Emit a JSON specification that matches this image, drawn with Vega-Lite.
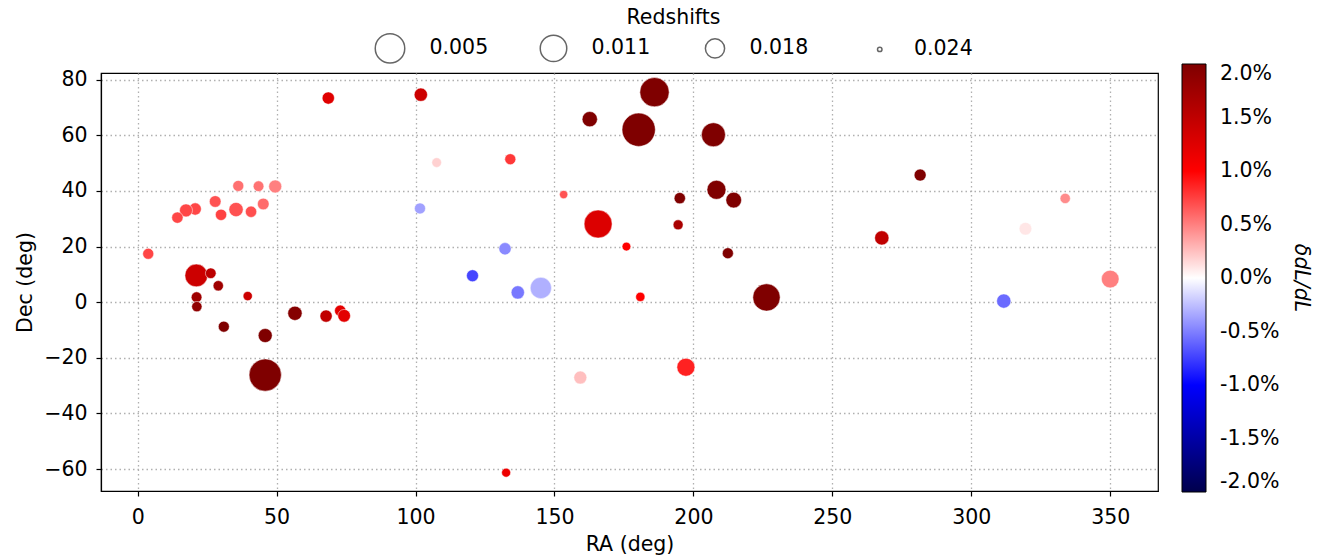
{
  "$schema": "https://vega.github.io/schema/vega-lite/v6.json",
  "autosize": "none",
  "width": 1057,
  "height": 418,
  "padding": {"left": 101, "top": 73, "right": 172, "bottom": 66},
  "background": "white",
  "config": {
    "font": "DejaVu Sans",
    "view": {"stroke": "black", "strokeWidth": 1.2},
    "axis": {
      "labelFontSize": 20.5,
      "titleFontSize": 20.5,
      "labelColor": "black",
      "titleColor": "black",
      "titleFontWeight": "normal",
      "tickColor": "black",
      "tickSize": 5,
      "tickWidth": 1.2,
      "domainColor": "black",
      "domainWidth": 1.2,
      "grid": true,
      "gridColor": "#b0b0b0",
      "gridDash": [1.5, 3],
      "gridWidth": 1.3
    }
  },
  "data": {
    "values": [
      {"ra": 68.6, "dec": 73.4, "z": 0.02175, "dl": 1.24},
      {"ra": 101.9, "dec": 74.6, "z": 0.0213, "dl": 1.4},
      {"ra": 107.6, "dec": 50.2, "z": 0.02273, "dl": 0.18},
      {"ra": 101.6, "dec": 33.7, "z": 0.02226, "dl": -0.37},
      {"ra": 36.2, "dec": 41.8, "z": 0.02226, "dl": 0.56},
      {"ra": 43.5, "dec": 41.7, "z": 0.02238, "dl": 0.55},
      {"ra": 49.5, "dec": 41.6, "z": 0.02144, "dl": 0.5},
      {"ra": 27.9, "dec": 36.2, "z": 0.02199, "dl": 0.68},
      {"ra": 45.2, "dec": 35.3, "z": 0.02199, "dl": 0.58},
      {"ra": 35.4, "dec": 33.3, "z": 0.02084, "dl": 0.68},
      {"ra": 40.8, "dec": 32.5, "z": 0.02214, "dl": 0.69},
      {"ra": 30.0, "dec": 31.4, "z": 0.02214, "dl": 0.74},
      {"ra": 20.7, "dec": 33.5, "z": 0.02175, "dl": 0.72},
      {"ra": 17.4, "dec": 33.0, "z": 0.02144, "dl": 0.72},
      {"ra": 14.3, "dec": 30.4, "z": 0.02214, "dl": 0.72},
      {"ra": 3.8, "dec": 17.4, "z": 0.02226, "dl": 0.73},
      {"ra": 21.1, "dec": 9.6, "z": 0.01493, "dl": 1.4},
      {"ra": 26.3, "dec": 10.4, "z": 0.02238, "dl": 1.53},
      {"ra": 29.0, "dec": 5.9, "z": 0.02252, "dl": 1.75},
      {"ra": 21.2, "dec": 1.8, "z": 0.02238, "dl": 1.75},
      {"ra": 21.3, "dec": -1.6, "z": 0.02252, "dl": 1.87},
      {"ra": 39.6, "dec": 2.2, "z": 0.02287, "dl": 1.4},
      {"ra": 31.0, "dec": -8.8, "z": 0.02226, "dl": 2.0},
      {"ra": 45.9, "dec": -12.0, "z": 0.02097, "dl": 2.0},
      {"ra": 45.9, "dec": -26.2, "z": 0.00379, "dl": 2.0},
      {"ra": 56.6, "dec": -4.0, "z": 0.02084, "dl": 1.95},
      {"ra": 67.8, "dec": -5.0, "z": 0.02175, "dl": 1.49},
      {"ra": 72.9, "dec": -3.1, "z": 0.02214, "dl": 1.2},
      {"ra": 74.3, "dec": -4.9, "z": 0.02158, "dl": 1.22},
      {"ra": 186.0, "dec": 75.5, "z": 0.00543, "dl": 2.0},
      {"ra": 162.7, "dec": 65.8, "z": 0.02032, "dl": 2.0},
      {"ra": 180.3, "dec": 62.0, "z": 0.00333, "dl": 2.0},
      {"ra": 207.2, "dec": 60.2, "z": 0.01365, "dl": 2.0},
      {"ra": 134.1, "dec": 51.4, "z": 0.02226, "dl": 0.78},
      {"ra": 153.3, "dec": 38.7, "z": 0.02316, "dl": 0.67},
      {"ra": 195.1, "dec": 37.4, "z": 0.02214, "dl": 2.0},
      {"ra": 208.3, "dec": 40.4, "z": 0.01814, "dl": 2.0},
      {"ra": 214.5, "dec": 36.7, "z": 0.02011, "dl": 2.0},
      {"ra": 165.7, "dec": 28.1, "z": 0.00807, "dl": 1.27},
      {"ra": 194.5, "dec": 27.8, "z": 0.02262, "dl": 1.67},
      {"ra": 175.9, "dec": 20.0, "z": 0.02304, "dl": 1.0},
      {"ra": 212.4, "dec": 17.6, "z": 0.02226, "dl": 2.0},
      {"ra": 132.2, "dec": 19.2, "z": 0.02175, "dl": -0.46},
      {"ra": 120.5, "dec": 9.5, "z": 0.02187, "dl": -0.73},
      {"ra": 136.8, "dec": 3.5, "z": 0.0213, "dl": -0.53},
      {"ra": 145.1, "dec": 5.1, "z": 0.01621, "dl": -0.31},
      {"ra": 180.9, "dec": 1.9, "z": 0.02287, "dl": 1.0},
      {"ra": 226.3, "dec": 1.7, "z": 0.00946, "dl": 2.0},
      {"ra": 197.3, "dec": -23.4, "z": 0.01877, "dl": 0.87},
      {"ra": 159.3, "dec": -27.1, "z": 0.02144, "dl": 0.25},
      {"ra": 132.6, "dec": -61.3, "z": 0.02295, "dl": 1.13},
      {"ra": 281.6, "dec": 45.7, "z": 0.02187, "dl": 2.0},
      {"ra": 267.8, "dec": 23.1, "z": 0.02084, "dl": 1.49},
      {"ra": 333.8, "dec": 37.3, "z": 0.02252, "dl": 0.45},
      {"ra": 319.5, "dec": 26.4, "z": 0.02158, "dl": 0.1},
      {"ra": 350.0, "dec": 8.3, "z": 0.01896, "dl": 0.5},
      {"ra": 311.7, "dec": 0.4, "z": 0.02084, "dl": -0.58}
    ]
  },
  "mark": {"type": "point", "filled": true, "shape": "circle", "opacity": 1, "stroke": "white", "strokeWidth": 0.5},
  "encoding": {
    "x": {
      "field": "ra", "type": "quantitative",
      "scale": {"domain": [-13.2, 367.2], "nice": false, "zero": false},
      "axis": {"title": "RA (deg)", "values": [0, 50, 100, 150, 200, 250, 300, 350], "labelPadding": 11, "titlePadding": 7}
    },
    "y": {
      "field": "dec", "type": "quantitative",
      "scale": {"domain": [-67.9, 82.4], "nice": false, "zero": false},
      "axis": {"title": "Dec (deg)", "values": [-60, -40, -20, 0, 20, 40, 60, 80], "labelPadding": 9, "titlePadding": 8}
    },
    "size": {
      "field": "z", "type": "quantitative",
      "scale": {"type": "linear", "domain": [0.003, 0.005, 0.011, 0.018, 0.024], "range": [1156, 870, 702, 369, 20], "zero": false, "nice": false},
      "legend": {
        "title": "Redshifts",
        "orient": "none",
        "legendX": 273.5,
        "legendY": -65,
        "direction": "horizontal",
        "values": [0.005, 0.011, 0.018, 0.024],
        "format": ".3f",
        "gridAlign": "all",
        "titleAnchor": "middle",
        "titleOrient": "top",
        "titleFontSize": 20.5,
        "titleFontWeight": "normal",
        "titleColor": "black",
        "titlePadding": 4,
        "labelFontSize": 20.5,
        "labelColor": "black",
        "labelOffset": 24,
        "columnPadding": 48,
        "symbolType": "circle",
        "symbolFillColor": "transparent",
        "symbolStrokeColor": "#666666",
        "symbolStrokeWidth": 1.5,
        "symbolOpacity": 1,
        "padding": 0,
        "encode": {
          "symbols": {"update": {"fill": {"value": "transparent"}, "fillOpacity": {"value": 0}, "stroke": {"value": "#666666"}, "strokeWidth": {"value": 1.5}, "strokeOpacity": {"value": 1}}}
        }
      }
    },
    "color": {
      "field": "dl", "type": "quantitative",
      "scale": {"domain": [-2, -1, 0, 1, 2], "range": ["#00004c", "#0000ff", "#ffffff", "#ff0000", "#7f0000"], "interpolate": "rgb", "clamp": true},
      "legend": {
        "title": "δdL/dL",
        "orient": "none",
        "legendX": 1081,
        "legendY": -9,
        "direction": "vertical",
        "gradientLength": 428,
        "gradientThickness": 24,
        "gradientStrokeColor": "black",
        "gradientStrokeWidth": 1,
        "values": [-2, -1.5, -1, -0.5, 0, 0.5, 1, 1.5, 2],
        "labelExpr": "replace(format(datum.value, '.1f'), '−', '-') + '%'",
        "labelFontSize": 20.5,
        "labelColor": "black",
        "labelOffset": 14,
        "labelOverlap": false,
        "titleOrient": "right",
        "titleAngle": 90,
        "titleFontSize": 20.5,
        "titleFontWeight": "normal",
        "titleFontStyle": "italic",
        "titleColor": "black",
        "titleAnchor": "middle",
        "titlePadding": 12,
        "padding": 0,
        "encode": {
          "labels": {"update": {"baseline": {"value": "middle"}}}
        }
      }
    }
  }
}
